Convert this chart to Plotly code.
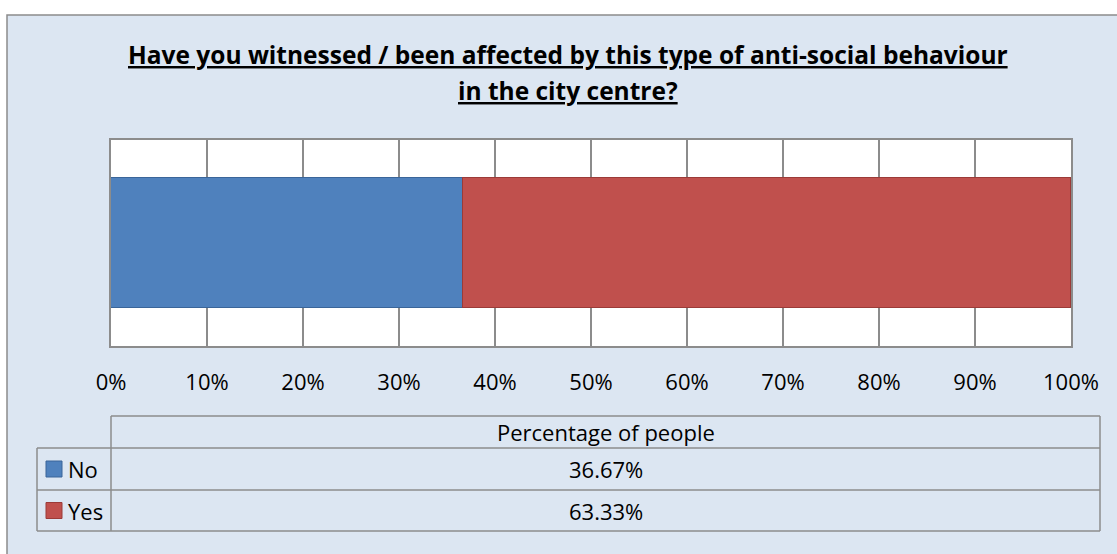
import plotly.graph_objects as go

# ---- data ----
categories = ["Percentage of people"]
series_names = ["No", "Yes"]
no_values = [36.67]
yes_values = [63.33]
series_colors = ["#4F81BD", "#C0504D"]
series_borders = ["#3A6599", "#9B3B38"]
tick_values = [0, 10, 20, 30, 40, 50, 60, 70, 80, 90, 100]
tick_labels = [f"{v}%" for v in tick_values]
title_lines = ["Have you witnessed / been affected by this type of anti-social behaviour",
               "in the city centre?"]

W, H = 1117, 554
PL, PR, PT, PB = 111, 1071, 140, 346
FONT = "Open Sans"
GRID = "#8C8C8C"

def px(x):
    return (x - PL) / (PR - PL)

def py(y):
    return (PB - y) / (PB - PT)

fig = go.Figure()
series_values = [no_values, yes_values]
for name, vals, col, bcol in zip(series_names, series_values, series_colors, series_borders):
    fig.add_trace(go.Bar(
        y=categories, x=vals, name=name, orientation="h",
        marker=dict(color=col, line=dict(color=bcol, width=1.5)),
        width=0.63, hoverinfo="skip", showlegend=False,
    ))

shapes = []
# outer chart box
shapes.append(dict(type="rect", xref="paper", yref="paper", layer="below",
                   x0=px(7), x1=px(1130), y0=py(15), y1=py(570),
                   fillcolor="#DCE6F2", line=dict(color="#8C8C8C", width=1.5)))
# plot area white
shapes.append(dict(type="rect", xref="paper", yref="paper", layer="below",
                   x0=0, x1=1, y0=0, y1=1, fillcolor="white", line=dict(width=0)))

# data table lines
TL, TLL, TR = 111, 37, 1100
ROWS = [416, 448, 490, 531]
tline = dict(color=GRID, width=1.5)
shapes.append(dict(type="line", xref="paper", yref="paper", x0=px(TL), x1=px(TR), y0=py(ROWS[0]), y1=py(ROWS[0]), line=tline))
for r in ROWS[1:]:
    shapes.append(dict(type="line", xref="paper", yref="paper", x0=px(TLL), x1=px(TR), y0=py(r), y1=py(r), line=tline))
shapes.append(dict(type="line", xref="paper", yref="paper", x0=px(TL), x1=px(TL), y0=py(ROWS[0]), y1=py(ROWS[3]), line=tline))
shapes.append(dict(type="line", xref="paper", yref="paper", x0=px(TLL), x1=px(TLL), y0=py(ROWS[1]), y1=py(ROWS[3]), line=tline))
shapes.append(dict(type="line", xref="paper", yref="paper", x0=px(TR), x1=px(TR), y0=py(ROWS[0]), y1=py(ROWS[3]), line=tline))

annotations = []
# title
for line, yc in zip(title_lines, [55, 90]):
    annotations.append(dict(xref="paper", yref="paper", x=px(568), y=py(yc),
                            xanchor="center", yanchor="middle", showarrow=False,
                            text=f"<b><u>{line}</u></b>",
                            font=dict(family=FONT, size=24.5, color="black")))
# table header
annotations.append(dict(xref="paper", yref="paper", x=px((TL + TR) / 2), y=py((ROWS[0] + ROWS[1]) / 2),
                        xanchor="center", yanchor="middle", showarrow=False,
                        text=categories[0], font=dict(family=FONT, size=22, color="black")))
# table rows
for i, (name, vals, col, bcol) in enumerate(zip(series_names, series_values, series_colors, series_borders)):
    yc = (ROWS[i + 1] + ROWS[i + 2]) / 2
    annotations.append(dict(xref="paper", yref="paper", x=px((TL + TR) / 2), y=py(yc),
                            xanchor="center", yanchor="middle", showarrow=False,
                            text=f"{vals[0]:.2f}%", font=dict(family=FONT, size=22, color="black")))
    annotations.append(dict(xref="paper", yref="paper", x=px(66), y=py(yc),
                            xanchor="left", yanchor="middle", showarrow=False,
                            text=name, font=dict(family=FONT, size=22, color="black")))
    shapes.append(dict(type="rect", xref="paper", yref="paper",
                       x0=px(46), x1=px(62), y0=py(yc - 8), y1=py(yc + 8),
                       fillcolor=col, line=dict(color=bcol, width=1)))

fig.update_layout(
    width=W, height=H,
    margin=dict(l=PL, r=W - PR, t=PT, b=H - PB, pad=0),
    paper_bgcolor="white", plot_bgcolor="white",
    barmode="stack", bargap=0,
    shapes=shapes, annotations=annotations,
    xaxis=dict(range=[0, 100], tickvals=tick_values, ticktext=tick_labels,
               showgrid=True, gridcolor=GRID, gridwidth=1.5,
               showline=True, linecolor=GRID, linewidth=1.5, mirror=True,
               zeroline=False, ticks="", ticklabelstandoff=16,
               tickfont=dict(family=FONT, size=22, color="black"), fixedrange=True),
    yaxis=dict(range=[-0.5, 0.5], showticklabels=False, showgrid=False,
               showline=True, linecolor=GRID, linewidth=1.5, mirror=True,
               zeroline=False, fixedrange=True),
    showlegend=False,
)

fig.write_html("out.html", config={"displayModeBar": False},
               post_script="document.body.style.margin='0';document.body.style.overflow='hidden';")
